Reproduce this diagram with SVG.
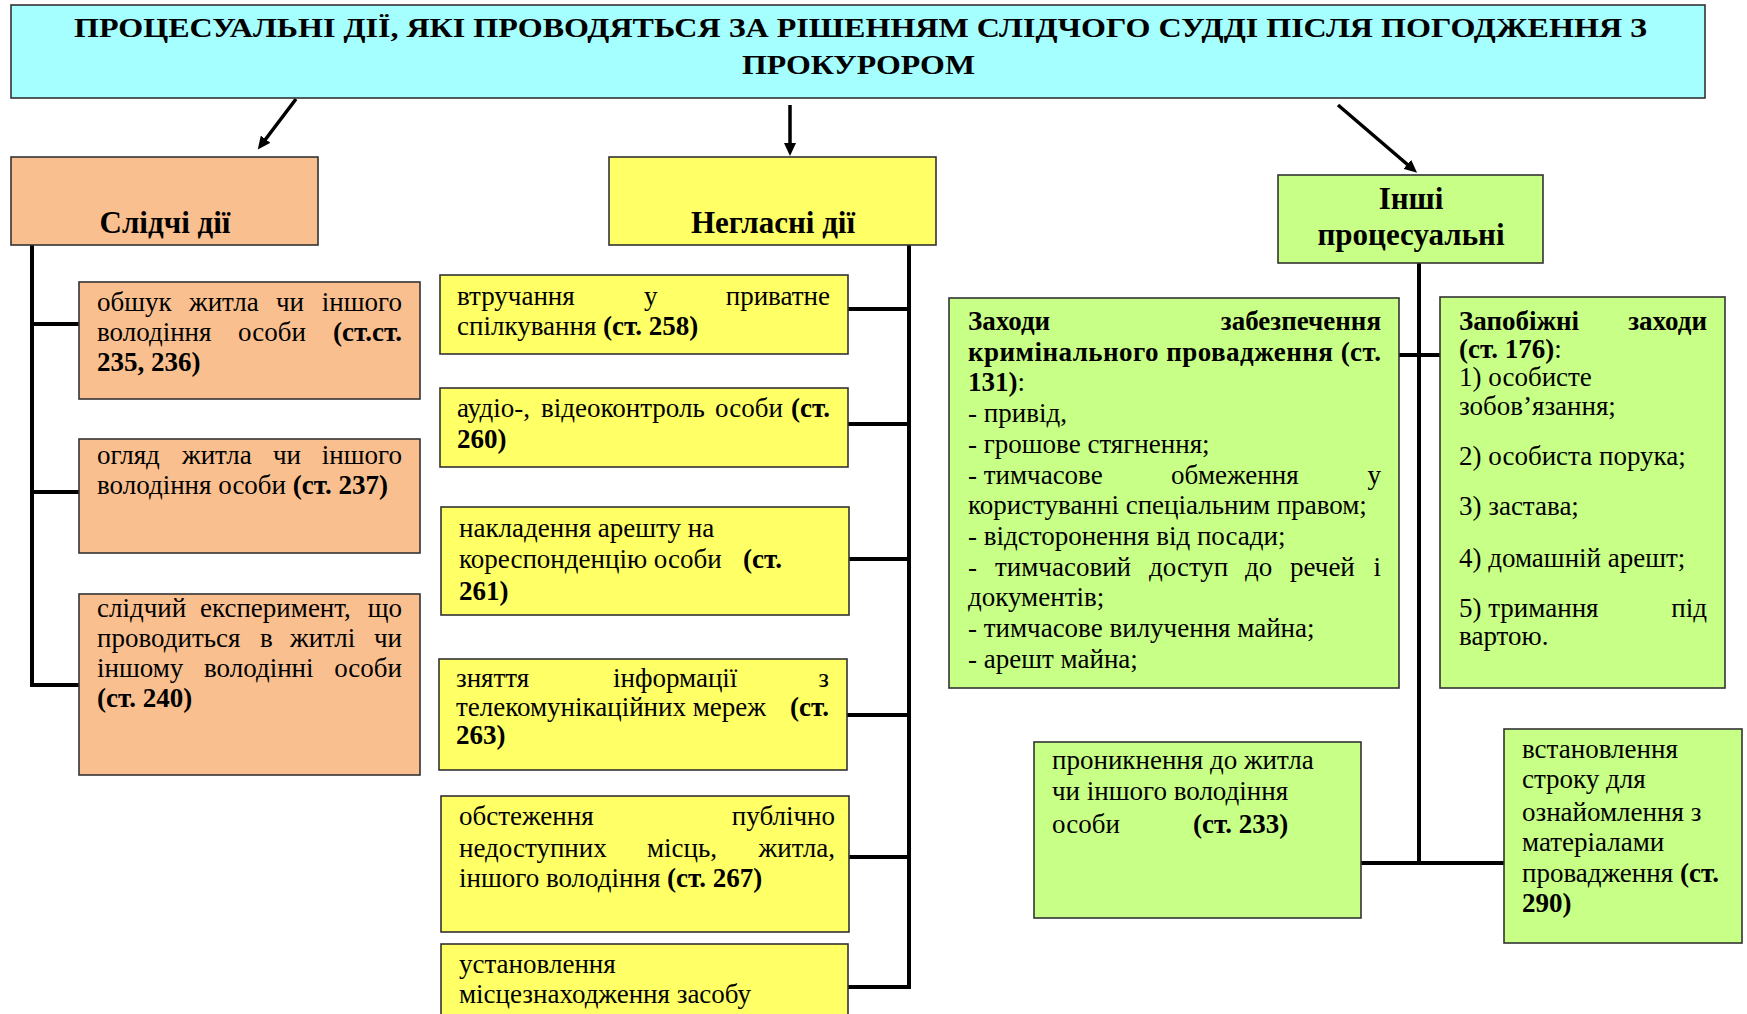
<svg xmlns="http://www.w3.org/2000/svg" width="1747" height="1014" viewBox="0 0 1747 1014">
<style>
.t{font-family:"Liberation Serif","Times New Roman",serif;font-size:27px;fill:#000}
.b{font-weight:bold}
.e{text-anchor:end}
.m{text-anchor:middle}
.h{font-family:"Liberation Serif","Times New Roman",serif;font-size:31px;font-weight:bold;fill:#000;text-anchor:middle}
.ti{font-family:"Liberation Serif","Times New Roman",serif;font-size:27px;font-weight:bold;fill:#000}
.box{stroke:#333;stroke-width:1.6}
.cyan{fill:#a6ffff}
.or{fill:#f9bf8f}
.ye{fill:#ffff66}
.gr{fill:#c8ff86}
.conn{stroke:#000;stroke-width:4;fill:none;stroke-linecap:square}
.arr{stroke:#000;stroke-width:3.5;fill:none;marker-end:url(#ah)}
</style>
<defs>
<marker id="ah" markerUnits="userSpaceOnUse" markerWidth="14" markerHeight="12" refX="1" refY="6" orient="auto">
<path d="M0,0 L13,6 L0,12 z" fill="#000"/>
</marker>
</defs>
<rect width="1747" height="1014" fill="#fff"/>

<g id="connectors">
<line class="arr" x1="296" y1="99" x2="265" y2="140"/>
<line class="arr" x1="790" y1="105" x2="790" y2="144"/>
<line class="arr" x1="1338" y1="105" x2="1408" y2="165"/>
<polyline class="conn" points="32,246 32,685 79,685"/>
<line class="conn" x1="32" y1="324" x2="79" y2="324"/>
<line class="conn" x1="32" y1="492" x2="79" y2="492"/>
<polyline class="conn" points="909,246 909,987 848,987"/>
<line class="conn" x1="848" y1="309" x2="909" y2="309"/>
<line class="conn" x1="848" y1="424" x2="909" y2="424"/>
<line class="conn" x1="849" y1="559" x2="909" y2="559"/>
<line class="conn" x1="847" y1="715" x2="909" y2="715"/>
<line class="conn" x1="849" y1="857" x2="909" y2="857"/>
<line class="conn" x1="1419" y1="264" x2="1419" y2="863"/>
<line class="conn" x1="1399" y1="355" x2="1440" y2="355"/>
<line class="conn" x1="1361" y1="863" x2="1504" y2="863"/>
</g>

<g id="title">
<rect class="box cyan" x="11" y="5" width="1694" height="93"/>
<text class="ti" x="74" y="37" textLength="1573" lengthAdjust="spacingAndGlyphs">ПРОЦЕСУАЛЬНІ ДІЇ, ЯКІ ПРОВОДЯТЬСЯ ЗА РІШЕННЯМ СЛІДЧОГО СУДДІ ПІСЛЯ ПОГОДЖЕННЯ З</text>
<text class="ti" x="742" y="74" textLength="233" lengthAdjust="spacingAndGlyphs">ПРОКУРОРОМ</text>
</g>

<g id="slidchi">
<rect class="box or" x="11" y="157" width="307" height="88"/>
<text class="h" x="165" y="233">Слідчі дії</text>
</g>
<g id="neglasni">
<rect class="box ye" x="609" y="157" width="327" height="88"/>
<text class="h" x="773" y="233">Негласні дії</text>
</g>
<g id="inshi">
<rect class="box gr" x="1278" y="175" width="265" height="88"/>
<text class="h" x="1411" y="209">Інші</text>
<text class="h" x="1411" y="245">процесуальні</text>
</g>

<g id="obshuk">
<rect class="box or" x="79" y="282" width="341" height="117"/>
<text class="t" x="97" y="311">обшук</text><text class="t" x="189" y="311">житла</text><text class="t" x="276" y="311">чи</text><text class="t e" x="402" y="311">іншого</text>
<text class="t" x="97" y="341">володіння</text><text class="t" x="238" y="341">особи</text><text class="t b e" x="402" y="341">(ст.ст.</text>
<text class="t b" x="97" y="371">235, 236)</text>
</g>
<g id="ohliad">
<rect class="box or" x="79" y="439" width="341" height="114"/>
<text class="t" x="97" y="464">огляд</text><text class="t" x="182" y="464">житла</text><text class="t" x="273" y="464">чи</text><text class="t e" x="402" y="464">іншого</text>
<text class="t" x="97" y="494">володіння особи <tspan class="b">(ст. 237)</tspan></text>
</g>
<g id="eksperyment">
<rect class="box or" x="79" y="594" width="341" height="181"/>
<text class="t" x="97" y="617">слідчий</text><text class="t" x="200" y="617">експеримент,</text><text class="t e" x="402" y="617">що</text>
<text class="t" x="97" y="647">проводиться</text><text class="t" x="260" y="647">в</text><text class="t" x="290" y="647">житлі</text><text class="t e" x="402" y="647">чи</text>
<text class="t" x="97" y="677">іншому</text><text class="t" x="204" y="677">володінні</text><text class="t e" x="402" y="677">особи</text>
<text class="t b" x="97" y="707">(ст. 240)</text>
</g>

<g id="vtruchannia">
<rect class="box ye" x="440" y="275" width="408" height="79"/>
<text class="t" x="457" y="305">втручання</text><text class="t" x="644" y="305">у</text><text class="t e" x="830" y="305">приватне</text>
<text class="t" x="457" y="335">спілкування <tspan class="b">(ст. 258)</tspan></text>
</g>
<g id="audio">
<rect class="box ye" x="440" y="388" width="408" height="79"/>
<text class="t" x="457" y="417">аудіо-,</text><text class="t" x="541" y="417">відеоконтроль</text><text class="t" x="715" y="417">особи</text><text class="t b e" x="830" y="417">(ст.</text>
<text class="t b" x="457" y="448">260)</text>
</g>
<g id="aresht-korespondentsii">
<rect class="box ye" x="441" y="507" width="408" height="108"/>
<text class="t" x="459" y="537">накладення арешту на</text>
<text class="t" x="459" y="568">кореспонденцію особи</text><text class="t b" x="743" y="568">(ст.</text>
<text class="t b" x="459" y="600">261)</text>
</g>
<g id="zniattia">
<rect class="box ye" x="439" y="659" width="408" height="111"/>
<text class="t" x="456" y="687">зняття</text><text class="t" x="613" y="687">інформації</text><text class="t e" x="829" y="687">з</text>
<text class="t" x="456" y="716">телекомунікаційних мереж</text><text class="t b e" x="829" y="716">(ст.</text>
<text class="t b" x="456" y="744">263)</text>
</g>
<g id="obstezhennia">
<rect class="box ye" x="441" y="796" width="408" height="136"/>
<text class="t" x="459" y="825">обстеження</text><text class="t e" x="835" y="825">публічно</text>
<text class="t" x="459" y="857">недоступних</text><text class="t" x="647" y="857">місць,</text><text class="t e" x="835" y="857">житла,</text>
<text class="t" x="459" y="887">іншого володіння <tspan class="b">(ст. 267)</tspan></text>
</g>
<g id="ustanovlennia">
<rect class="box ye" x="441" y="944" width="407" height="80"/>
<text class="t" x="459" y="973">установлення</text>
<text class="t" x="459" y="1003">місцезнаходження засобу</text>
</g>

<g id="zakhody">
<rect class="box gr" x="949" y="298" width="450" height="390"/>
<text class="t b" x="968" y="330">Заходи</text><text class="t b e" x="1381" y="330">забезпечення</text>
<text class="t b" x="968" y="361" textLength="413" lengthAdjust="spacing">кримінального провадження (ст.</text>
<text class="t" x="968" y="391"><tspan class="b">131)</tspan>:</text>
<text class="t" x="968" y="422">- привід,</text>
<text class="t" x="968" y="453">- грошове стягнення;</text>
<text class="t" x="968" y="484">- тимчасове</text><text class="t" x="1171" y="484">обмеження</text><text class="t e" x="1381" y="484">у</text>
<text class="t" x="968" y="514">користуванні спеціальним правом;</text>
<text class="t" x="968" y="545">- відсторонення від посади;</text>
<text class="t" x="968" y="576">-</text><text class="t" x="995" y="576">тимчасовий</text><text class="t" x="1149" y="576">доступ</text><text class="t" x="1245" y="576">до</text><text class="t" x="1290" y="576">речей</text><text class="t e" x="1381" y="576">і</text>
<text class="t" x="968" y="606">документів;</text>
<text class="t" x="968" y="637">- тимчасове вилучення майна;</text>
<text class="t" x="968" y="668">- арешт майна;</text>
</g>

<g id="zapobizhni">
<rect class="box gr" x="1440" y="297" width="285" height="391"/>
<text class="t b" x="1459" y="330">Запобіжні</text><text class="t b e" x="1707" y="330">заходи</text>
<text class="t" x="1459" y="358"><tspan class="b">(ст. 176)</tspan>:</text>
<text class="t" x="1459" y="386">1) особисте</text>
<text class="t" x="1459" y="415">зобов’язання;</text>
<text class="t" x="1459" y="465">2) особиста порука;</text>
<text class="t" x="1459" y="515">3) застава;</text>
<text class="t" x="1459" y="567">4) домашній арешт;</text>
<text class="t" x="1459" y="617">5) тримання</text><text class="t e" x="1707" y="617">під</text>
<text class="t" x="1459" y="645">вартою.</text>
</g>

<g id="pronyknennia">
<rect class="box gr" x="1034" y="742" width="327" height="176"/>
<text class="t" x="1052" y="769">проникнення до житла</text>
<text class="t" x="1052" y="800">чи іншого володіння</text>
<text class="t" x="1052" y="833">особи</text><text class="t b" x="1193" y="833">(ст. 233)</text>
</g>

<g id="strok">
<rect class="box gr" x="1504" y="729" width="238" height="214"/>
<text class="t" x="1522" y="758">встановлення</text>
<text class="t" x="1522" y="788">строку для</text>
<text class="t" x="1522" y="821">ознайомлення з</text>
<text class="t" x="1522" y="851">матеріалами</text>
<text class="t" x="1522" y="882">провадження <tspan class="b">(ст.</tspan></text>
<text class="t b" x="1522" y="912">290)</text>
</g>
</svg>
